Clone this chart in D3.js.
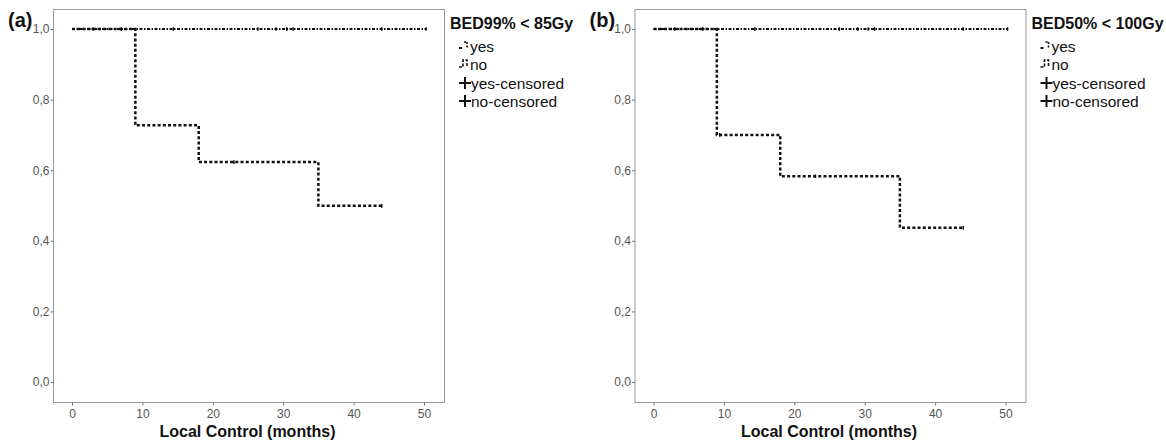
<!DOCTYPE html>
<html>
<head>
<meta charset="utf-8">
<script src="https://cdn.jsdelivr.net/npm/d3@7"></script>
<style>
  html, body { margin: 0; padding: 0; background: #fff; }
  svg text { font-family: "Liberation Sans", Arial, sans-serif; }
</style>
</head>
<body>
<svg id="chart" width="1166" height="443"></svg>
<script>
// ---- data ----
const xTicks = [0, 10, 20, 30, 40, 50];
const yTicks = [0.0, 0.2, 0.4, 0.6, 0.8, 1.0];
const panelLabels = ["(a)", "(b)"];
const legendTitles = ["BED99% < 85Gy", "BED50% < 100Gy"];
const legendItems = ["yes", "no", "yes-censored", "no-censored"];
const xTitle = "Local Control (months)";

// panel (a)
const yesTimesA = [0, 9, 18, 35, 44];
const yesSurvA  = [1.0, 0.727, 0.623, 0.499, 0.499];
const noTimesA  = [0, 50.3];
const noSurvA   = [1.0, 1.0];
const yesCensorA = [23, 44];
const noCensorA  = [3, 7, 14.4, 26.4, 29, 30.5, 31.4, 44, 50.3];

// panel (b)
const yesTimesB = [0, 9, 18, 35, 44];
const yesSurvB  = [1.0, 0.700, 0.583, 0.437, 0.437];
const noTimesB  = [0, 50.3];
const noSurvB   = [1.0, 1.0];
const yesCensorB = [9.4, 23, 44];
const noCensorB  = [3, 7, 14.4, 26.4, 29, 30.5, 31.4, 44, 50.3];

// ---- drawing ----
const svg = d3.select("#chart");
const fmt = v => d3.format(".1f")(v).replace(".", ",");

function stepsToCurve(times, surv) {
  return times.map((t, i) => ({ t: t, s: surv[i] }));
}

function drawPanel(offsetX, idx, yesT, yesS, noT, noS, yesC, noC) {
  const frameL = 53 + offsetX, frameR = 444 + offsetX, frameT = 9, frameB = 402;
  const x = d3.scaleLinear().domain([0, 50]).range([72 + offsetX, 424 + offsetX]);
  const y = d3.scaleLinear().domain([0, 1]).range([382, 29]);

  const g = svg.append("g");

  // frame
  g.append("rect")
    .attr("x", frameL + 0.5).attr("y", frameT + 0.5)
    .attr("width", frameR - frameL).attr("height", frameB - frameT)
    .attr("fill", "none").attr("stroke", "#9a9a9a").attr("stroke-width", 1);

  // axes
  const xAxis = g.append("g").attr("transform", `translate(0,${frameB + 0.5})`)
    .call(d3.axisBottom(x).tickValues(xTicks).tickSize(3).tickPadding(4).tickFormat(d3.format("d")));
  const yAxis = g.append("g").attr("transform", `translate(${frameL + 0.5},0)`)
    .call(d3.axisLeft(y).tickValues(yTicks).tickSize(3).tickPadding(1).tickFormat(fmt));
  [xAxis, yAxis].forEach(a => {
    a.select(".domain").remove();
    a.selectAll(".tick line").attr("stroke", "#777");
    a.selectAll(".tick text").attr("fill", "#555").style("font-size", "12px")
      .style("font-family", "'Liberation Sans', Arial, sans-serif");
  });

  // x title
  g.append("text").attr("x", (frameL + frameR) / 2 - 1).attr("y", 437)
    .attr("text-anchor", "middle").style("font-size", "16px").style("font-weight", "bold")
    .attr("fill", "#111").text(xTitle);

  // panel label
  g.append("text").attr("x", frameL - 45).attr("y", 27)
    .style("font-size", "20px").style("font-weight", "bold").attr("fill", "#111")
    .text(panelLabels[idx]);

  const line = d3.line().x(d => x(d.t)).y(d => y(d.s)).curve(d3.curveStepAfter);

  // no curve (dash-dot)
  g.append("path").datum(stepsToCurve(noT, noS))
    .attr("d", line).attr("fill", "none").attr("stroke", "#111")
    .attr("stroke-width", 2).attr("stroke-dasharray", "3,1.5,1.5,1.5");

  // yes curve (dotted)
  g.append("path").datum(stepsToCurve(yesT, yesS))
    .attr("d", line).attr("fill", "none").attr("stroke", "#111")
    .attr("stroke-width", 2.5).attr("stroke-dasharray", "3,2.2");

  // censor marks
  function survAt(times, surv, t) {
    let s = surv[0];
    for (let i = 0; i < times.length; i++) if (times[i] <= t) s = surv[i];
    return s;
  }
  g.selectAll(".cy").data(yesC).enter().append("line")
    .attr("x1", d => x(d)).attr("x2", d => x(d))
    .attr("y1", d => y(survAt(yesT, yesS, d)) - 1.8).attr("y2", d => y(survAt(yesT, yesS, d)) + 1.8)
    .attr("stroke", "#111").attr("stroke-width", 1.5);
  g.selectAll(".cn").data(noC).enter().append("line")
    .attr("x1", d => x(d)).attr("x2", d => x(d))
    .attr("y1", d => y(survAt(noT, noS, d)) - 1.8).attr("y2", d => y(survAt(noT, noS, d)) + 1.8)
    .attr("stroke", "#111").attr("stroke-width", 1.5);

  // legend
  const T = frameR + 6;
  g.append("text").attr("x", T).attr("y", 29)
    .style("font-size", "16px").style("font-weight", "bold").attr("fill", "#111")
    .text(legendTitles[idx]);
  const rowY = [52, 70, 89, 107];
  const symC = T + 15, txtX = T + 21;
  legendItems.forEach((name, i) => {
    const yb = rowY[i];
    if (i === 0) {
      g.append("path").attr("d", `M${symC - 6},${yb - 4}H${symC - 3}`)
        .attr("stroke", "#111").attr("stroke-width", 2).attr("fill", "none");
      g.append("path").attr("d", `M${symC - 1},${yb - 10}H${symC + 2}M${symC + 2},${yb - 10}V${yb - 3}`)
        .attr("stroke", "#111").attr("stroke-width", 1.6).attr("fill", "none")
        .attr("stroke-dasharray", "2,1.5");
    } else if (i === 1) {
      g.append("path").attr("d", `M${symC - 6},${yb - 3}H${symC - 2}V${yb - 10}H${symC + 2}V${yb - 4}`)
        .attr("stroke", "#111").attr("stroke-width", 1.6).attr("fill", "none")
        .attr("stroke-dasharray", "3,1.5");
    } else {
      const cy = yb - 6;
      g.append("path").attr("d", `M${symC - 6},${cy}H${symC + 6}M${symC},${cy - 6}V${cy + 6}`)
        .attr("stroke", "#111").attr("stroke-width", 2).attr("fill", "none");
    }
    g.append("text").attr("x", i < 2 ? txtX - 1 : txtX).attr("y", yb)
      .style("font-size", "15.5px").attr("fill", "#111").text(name);
  });
}

drawPanel(0, 0, yesTimesA, yesSurvA, noTimesA, noSurvA, yesCensorA, noCensorA);
drawPanel(581.5, 1, yesTimesB, yesSurvB, noTimesB, noSurvB, yesCensorB, noCensorB);
</script>
</body>
</html>
